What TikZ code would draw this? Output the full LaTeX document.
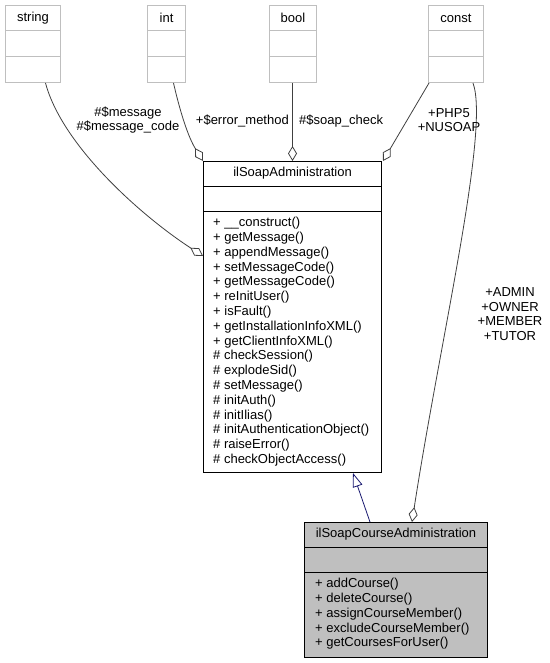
\documentclass[tikz,border=0pt]{standalone}
\usepackage{fontspec}
\setmainfont{Liberation Sans}
\usetikzlibrary{arrows.meta,calc}
\definecolor{boxgray}{HTML}{BFBFBF}
\definecolor{edgegray}{HTML}{404040}
\definecolor{navyedge}{HTML}{191970}
\begin{document}
\begin{tikzpicture}[x=1pt,y=-1pt,
  txt/.style={font=\fontsize{13}{14.8}\selectfont, inner sep=0pt},
  typebox/.style={draw=boxgray, line width=1pt, fill=white, inner sep=0pt, anchor=north west, minimum height=77pt},
  classbox/.style={draw=black, line width=1pt, inner sep=0pt, anchor=north west},
  agg/.style={draw=edgegray, line width=0.8pt, -{Diamond[open, length=15pt, width=9pt, line width=0.8pt]}},
  inh/.style={draw=navyedge, line width=0.8pt, -{Triangle[open, length=14pt, width=10pt, line width=0.8pt]}},
]
\useasboundingbox (0,0) rectangle (549,663);

% top type boxes
\node[typebox, minimum width=55pt] (string) at (5,5) {};
\node[typebox, minimum width=38pt] (int) at (147,5) {};
\node[typebox, minimum width=47pt] (bool) at (269,5) {};
\node[typebox, minimum width=55pt] (const) at (428,5) {};
\foreach \b/\t in {string/string, int/int, bool/bool, const/const}{
  \node[txt] (\b T) at ($(\b.north)+(0,13)$) {\t};
  \draw[boxgray, line width=1pt] ($(\b.north west)+(0,26)$) -- ($(\b.north east)+(0,26)$);
  \draw[boxgray, line width=1pt] ($(\b.north west)+(0,51.5)$) -- ($(\b.north east)+(0,51.5)$);
}

% ilSoapAdministration
\node[classbox, minimum width=178pt, minimum height=311pt] (adm) at (203,161) {};
\node[txt] (admT) at ($(adm.north)+(0,12.5)$) {ilSoapAdministration};
\draw[black, line width=1pt] ($(adm.north west)+(0,25)$) -- ($(adm.north east)+(0,25)$);
\draw[black, line width=1pt] ($(adm.north west)+(0,50)$) -- ($(adm.north east)+(0,50)$);
\node[txt, align=left, anchor=north west] (admM) at ($(adm.north west)+(10,56)$) {%
+ \_\_construct()\\
+ getMessage()\\
+ appendMessage()\\
+ setMessageCode()\\
+ getMessageCode()\\
+ reInitUser()\\
+ isFault()\\
+ getInstallationInfoXML()\\
+ getClientInfoXML()\\
\# checkSession()\\
\# explodeSid()\\
\# setMessage()\\
\# initAuth()\\
\# initIlias()\\
\# initAuthenticationObject()\\
\# raiseError()\\
\# checkObjectAccess()};

% ilSoapCourseAdministration
\node[classbox, fill=boxgray, minimum width=183pt, minimum height=135pt] (crs) at (304,522) {};
\node[txt] (crsT) at ($(crs.north)+(0,12.5)$) {ilSoapCourseAdministration};
\draw[black, line width=1pt] ($(crs.north west)+(0,25.5)$) -- ($(crs.north east)+(0,25.5)$);
\draw[black, line width=1pt] ($(crs.north west)+(0,50.5)$) -- ($(crs.north east)+(0,50.5)$);
\node[txt, align=left, anchor=north west] (crsM) at ($(crs.north west)+(11,56)$) {%
+ addCourse()\\
+ deleteCourse()\\
+ assignCourseMember()\\
+ excludeCourseMember()\\
+ getCoursesForUser()};

% connectors
\coordinate (sS) at ($(string.south)+(12.5,0)$);
\coordinate (admL) at ($(adm.north west)+(0,95)$);
\draw[agg] (sS) .. controls (62,145) and (140,215) .. (admL);
\coordinate (iS) at ($(int.south)+(7,0)$);
\draw[agg] (iS) .. controls (182,120) and (190,140) .. (adm.north west);
\coordinate (bS) at ($(bool.south)+(-0.5,0)$);
\coordinate (admB) at (bS |- adm.north);
\draw[agg] (bS) -- (admB);
\coordinate (cS1) at ($(const.south west)+(1,0)$);
\draw[agg] (cS1) -- ($(adm.north east)+(1,0)$);
\coordinate (cS2) at ($(const.south)+(17,0)$);
\coordinate (crsTop) at ($(crs.north west)+(108,0)$);
\draw[agg] (cS2) .. controls (490,130) and (440,340) .. (crsTop);
\coordinate (crsInh) at ($(crs.north west)+(66,0)$);
\coordinate (admInh) at ($(adm.south west)+(150,0)$);
\draw[inh] (crsInh) -- (admInh);

% labels
\node[txt, align=center] (l1) at (128,120) {\#\$message\\\#\$message\_code};
\node[txt, anchor=east] (l2) at (289,121) {+\$error\_method};
\node[txt, anchor=west] (l3) at (299,121) {\#\$soap\_check};
\node[txt, align=center] (l4) at (449,120) {+PHP5\\+NUSOAP};
\node[txt, align=center] (l5) at (510,314) {+ADMIN\\+OWNER\\+MEMBER\\+TUTOR};
\end{tikzpicture}
\end{document}
